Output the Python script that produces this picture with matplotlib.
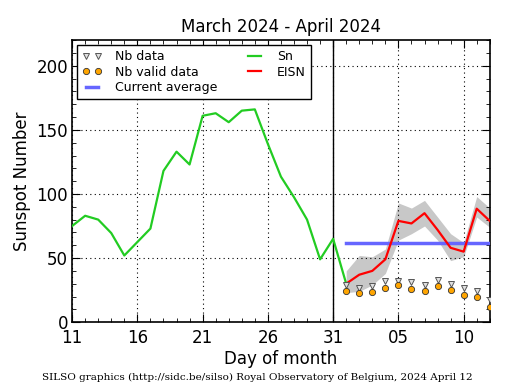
import matplotlib
matplotlib.use("Agg")
import matplotlib.pyplot as plt
import matplotlib.transforms as mtransforms
from matplotlib.ticker import MultipleLocator, FixedLocator
import numpy as np

# day index 0 = March 11, 2024
sn_days = list(range(0, 22))
sn_values = [75, 83, 80, 69.5, 52, 62.5, 73, 118, 133, 123, 161, 163, 156, 165, 166,
             139, 113.5, 97.5, 80, 49, 65, 30]

eisn_days = list(range(21, 33))
eisn_values = [30, 37, 40, 49, 79, 77, 85, 72, 58, 55, 88.5, 79]
eisn_upper = [40, 52, 51, 57, 93, 89, 95, 82, 69, 62, 98, 89]
eisn_lower = [23, 24, 29, 38, 64, 69, 75, 64, 48, 51, 82, 74]

nb_data = [29, 27, 28, 32, 32, 31, 29, 33, 29.5, 27, 24, 17]
nb_valid = [24, 23, 23.5, 27, 29, 26, 24, 28.5, 25, 21, 19.5, 11.5]

current_average = 62
avg_start, avg_end = 21, 32.5

tick_pos = [0, 5, 10, 15, 20, 25, 30]
tick_labels = ["11", "16", "21", "26", "31", "05", "10"]
month_boundary = 20

fig = plt.figure(figsize=(5.15, 3.9), dpi=100)
ax = fig.add_axes([0.140, 0.174, 0.811, 0.723])

ax.fill_between(eisn_days, eisn_lower, eisn_upper, color="#c8c8c8", lw=0, zorder=1)
ax.axvline(month_boundary, color="black", lw=1, zorder=2)
ax.plot(sn_days, sn_values, color="#22cc22", lw=1.6, label="Sn", zorder=3)
ax.plot(eisn_days, eisn_values, color="red", lw=1.6, label="EISN", zorder=4)
ax.plot([avg_start, avg_end], [current_average, current_average], color="#6666ff",
        lw=2.5, label="Current average", zorder=3)
ax.plot(eisn_days, nb_data, linestyle="none", marker="v", ms=4, mfc="#e0e0e0",
        mec="#555555", mew=0.7, label="Nb data", zorder=5)
ax.plot(eisn_days, nb_valid, linestyle="none", marker="o", ms=4.5, mfc="orange",
        mec="#333333", mew=0.6, label="Nb valid data", zorder=6)

ax.set_xlim(0, 32)
ax.set_ylim(0, 220)
ax.xaxis.set_major_locator(FixedLocator(tick_pos))
ax.set_xticklabels(tick_labels)
ax.xaxis.set_minor_locator(MultipleLocator(1))
ax.yaxis.set_major_locator(MultipleLocator(50))
ax.yaxis.set_minor_locator(MultipleLocator(10))
ax.tick_params(which="both", direction="in", top=True, right=True)
ax.tick_params(which="major", length=6, labelsize=12, pad=3)
ax.tick_params(axis="x", which="major", pad=5)
ax.tick_params(which="minor", length=3)
ax.grid(True, which="major", linestyle=(0, (1, 3)), color="black", lw=0.8)
for s in ax.spines.values():
    s.set_linewidth(1.2)

ax.set_xlabel("Day of month", fontsize=12, labelpad=2)
ax.set_ylabel("Sunspot Number", fontsize=12)
ax.set_title("March 2024 - April 2024", fontsize=12)

h, l = ax.get_legend_handles_labels()
order = [l.index(n) for n in ["Nb data", "Nb valid data", "Current average", "Sn", "EISN"]]
leg = ax.legend([h[i] for i in order], [l[i] for i in order], ncol=2, loc="upper left",
                fontsize=9, numpoints=2, fancybox=False, framealpha=1, edgecolor="black",
                borderaxespad=0.4, handlelength=1.6, columnspacing=2.2, labelspacing=0.2,
                handletextpad=1.0)
leg.get_frame().set_linewidth(1.0)

fig.text(0.5, 0.02, "SILSO graphics (http://sidc.be/silso) Royal Observatory of Belgium, 2024 April 12",
         ha="center", va="bottom", fontsize=7.5, family="DejaVu Serif")

# nudge the y "0" label up slightly so it does not collide with the first x label
fig.canvas.draw()
zero_tick = ax.yaxis.get_major_ticks()[0]
offset = mtransforms.ScaledTranslation(0, 3 / 72, fig.dpi_scale_trans)
zero_tick.label1.set_transform(zero_tick.label1.get_transform() + offset)

fig.savefig("out.png", dpi=100)
